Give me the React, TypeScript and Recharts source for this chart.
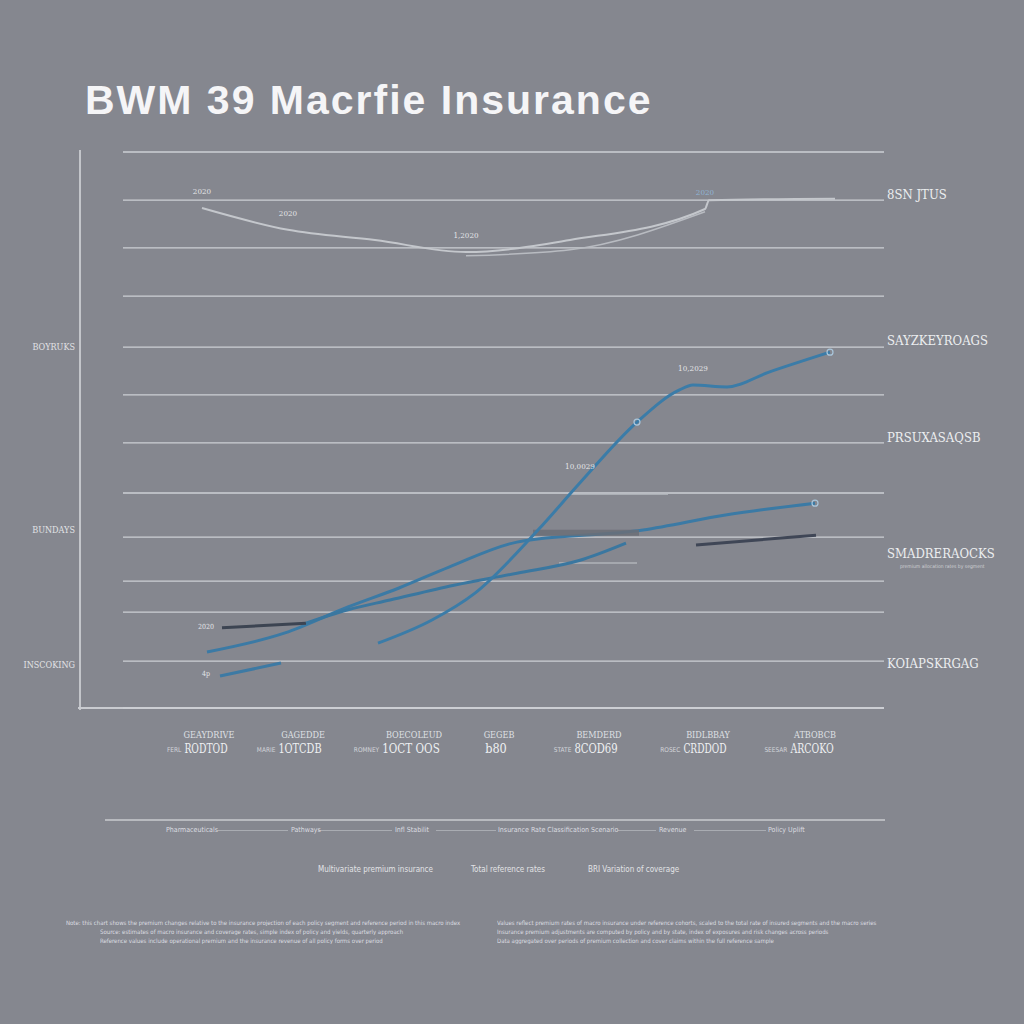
import React from 'react';
import { LineChart, Line, XAxis, YAxis, CartesianGrid, LabelList } from 'recharts';

const titleText = 'BWM 39 Macrfie Insurance';

// x axis (period index), labels
const xTicks = [8.3, 17.7, 28.8, 37.3, 47.3, 58.2, 68.9];
const xTopLabels = ['GEAYDRIVE', 'GAGEDDE', 'BOECOLEUD', 'GEGEB', 'BEMDERD', 'BIDLBBAY', 'ATBOBCB'];
const xPrefixLabels = ['FERL', 'MARIE', 'ROMNEY', '', 'STATE', 'ROSEC', 'SEESAR'];
const xMainLabels = ['RODTOD', '1OTCDB', '1OCT OOS', 'b80', '8COD69', 'CRDDOD', 'ARCOKO'];

// y axis
const gridValues = [0, 1.01, 2.07, 2.74, 3.69, 4.64, 5.72, 6.76, 7.79, 8.89, 9.93, 10.96, 12];
const leftTicks = [0.93, 3.84, 7.79];
const leftLabels = ['INSCOKING', 'BUNDAYS', 'BOYRUKS'];
const rightTicks = [0.97, 3.35, 5.85, 7.94, 11.09];
const rightLabels = ['KOIAPSKRGAG', 'SMADRERAOCKS', 'PRSUXASAQSB', 'SAYZKEYROAGS', '8SN JTUS'];

// series
const premiumX = [7.9, 16.5, 25.2, 34.3, 44.7, 58.2, 58.6, 71.2];
const premiumY = [10.79, 10.32, 10.1, 9.84, 10.1, 10.77, 10.96, 10.99];
const premiumTags = ['2020', '2020', '', '1,2020', '', '2020', '', ''];
const premiumEchoX = [34.3, 44.7, 58.2];
const premiumEchoY = [9.76, 9.89, 10.71];

const growthX = [25.5, 30.9, 35.2, 41.5, 45.7, 51.4, 55.6, 57.0, 60.4, 64.6, 70.7];
const growthY = [1.4, 1.9, 2.48, 3.84, 4.86, 6.17, 6.86, 6.97, 6.93, 7.25, 7.68];
const growthTags = ['', '', '', '', '10,0029', '', '', '10,2029', '', '', ''];

const coverX = [8.4, 16.2, 22.5, 27.6, 32.6, 39.4, 52.0, 60.4, 69.2];
const coverY = [1.21, 1.62, 2.18, 2.59, 3.04, 3.58, 3.84, 4.17, 4.42];

const claimsNavyX = [9.9, 18.3];
const claimsNavyY = [1.73, 1.83];
const claimsX = [18.3, 22.5, 26.7, 33.1, 39.4, 45.7, 50.3];
const claimsY = [1.83, 2.12, 2.33, 2.65, 2.91, 3.19, 3.56];

const smallX = [9.7, 15.8];
const smallY = [0.69, 0.97];

const lateX = [57.3, 69.3];
const lateY = [3.52, 3.73];

const bandX = [41.0, 51.6];
const bandY = [3.78, 3.78];
const faintTopX = [44.8, 54.5];
const faintTopY = [4.62, 4.62];
const faintLowX = [43.6, 51.4];
const faintLowY = [3.13, 3.13];

const pts = (xs: number[], ys: number[], tags?: string[]) =>
  xs.map((x, i) => ({ x, y: ys[i], tag: tags ? tags[i] : '' }));

const axisSub = [
  ['Pharmaceuticals', 166], ['Pathways', 291], ['Infl Stabilit', 395],
  ['Insurance Rate Classification Scenario', 498], ['Revenue', 659], ['Policy Uplift', 768],
];
const axisSubLinks = [[218, 288], [318, 392], [436, 496], [618, 656], [694, 766]];
const legendItems = [
  ['Multivariate premium insurance', 318], ['Total reference rates', 471], ['BRI Variation of coverage', 588],
];
const notesLeft = [
  'Note: this chart shows the premium changes relative to the insurance projection of each policy segment and reference period in this macro index',
  'Source: estimates of macro insurance and coverage rates, simple index of policy and yields, quarterly approach',
  'Reference values include operational premium and the insurance revenue of all policy forms over period',
];
const notesRight = [
  'Values reflect premium rates of macro insurance under reference cohorts, scaled to the total rate of insured segments and the macro series',
  'Insurance premium adjustments are computed by policy and by state, index of exposures and risk changes across periods',
  'Data aggregated over periods of premium collection and cover claims within the full reference sample',
];

const XTick = (props: any) => {
  const { x, y, index } = props;
  const main = xMainLabels[index] || '';
  const w = main.length * 7.2;
  return (
    <g>
      <text x={x + 3} y={y + 22} textAnchor="middle" fontSize={9} fill="#dfe0e4" fontFamily="DejaVu Serif Condensed">
        {xTopLabels[index]}
      </text>
      <text x={x - w / 2 - 3} y={y + 36} textAnchor="end" fontSize={6.5} fill="#d3d5da" fontFamily="DejaVu Sans Condensed">
        {xPrefixLabels[index]}
      </text>
      <text x={x} y={y + 37} textAnchor="middle" fontSize={13} fill="#eef0f2" fontFamily="DejaVu Serif Condensed" textLength={w} lengthAdjust="spacingAndGlyphs">
        {main}
      </text>
    </g>
  );
};

const LeftTick = (props: any) => {
  const { x, y, index } = props;
  return (
    <text x={x - 40} y={y + 3} textAnchor="end" fontSize={9} fill="#e2e3e6" fontFamily="DejaVu Serif Condensed">
      {leftLabels[index]}
    </text>
  );
};

const RightTick = (props: any) => {
  const { x, y, index } = props;
  return (
    <g>
      <text x={x - 5} y={y + 5} textAnchor="start" fontSize={13} fill="#eceef0" fontFamily="DejaVu Serif Condensed">
        {rightLabels[index]}
      </text>
      {index === 1 && (
        <text x={x + 8} y={y + 15} fontSize={5} fill="#d0d2d6" fontFamily="DejaVu Sans Condensed">
          premium allocation rates by segment
        </text>
      )}
    </g>
  );
};

const Tag = (props: any) => {
  const { x, y, value, index } = props;
  if (!value) return null;
  return (
    <text x={x} y={y - 14} textAnchor="middle" fontSize={8} fill={index === 5 && value === '2020' ? '#8fb4d4' : '#e4e5e8'} fontFamily="DejaVu Serif Condensed">
      {value}
    </text>
  );
};

const ringDot = (marked: number[]) => (props: any) => {
  const { cx, cy, index } = props;
  if (!marked.includes(index)) return <g key={index} />;
  return <circle key={index} cx={cx} cy={cy} r={3} fill="none" stroke="#a9c6dc" strokeWidth={1.2} />;
};

export default function App() {
  return (
    <div style={{ position: 'absolute', left: 0, top: 0, width: 1024, height: 1024, background: '#85878f', overflow: 'hidden', fontFamily: 'Liberation Sans' }}>
      <div style={{ position: 'absolute', left: 85, top: 80, fontSize: 41, letterSpacing: 2, fontWeight: 'bold', color: '#f5f5f7', lineHeight: 1, whiteSpace: 'nowrap' }}>
        {titleText}
      </div>
      <div style={{ position: 'absolute', left: 79, top: 150, width: 1.5, height: 560, background: '#c3c5ca' }} />
      <div style={{ position: 'absolute', left: 78, top: 707, width: 806, height: 1.5, background: '#c9cbd0' }} />

      <div style={{ position: 'absolute', left: 0, top: 0 }}>
        <LineChart width={1024} height={1024} margin={{ top: 152, right: 0, bottom: 256, left: 0 }}>
          <CartesianGrid vertical={false} horizontalValues={gridValues} yAxisId="left" stroke="#cdcfd4" strokeWidth={1.3} />
          <XAxis type="number" dataKey="x" domain={[0, 76.1]} ticks={xTicks} tick={<XTick />} axisLine={false} tickLine={false} height={60} allowDataOverflow interval={0} />
          <YAxis yAxisId="left" width={123} domain={[0, 12]} ticks={leftTicks} tick={<LeftTick />} axisLine={false} tickLine={false} interval={0} />
          <YAxis yAxisId="right" orientation="right" width={140} domain={[0, 12]} ticks={rightTicks} tick={<RightTick />} axisLine={false} tickLine={false} interval={0} />

          <Line yAxisId="right" data={pts(faintTopX, faintTopY)} dataKey="y" stroke="#b9bcc2" strokeWidth={1.5} dot={false} isAnimationActive={false} />
          <Line yAxisId="right" data={pts(faintLowX, faintLowY)} dataKey="y" stroke="#b0b3b9" strokeWidth={1.5} dot={false} isAnimationActive={false} />

          <Line yAxisId="left" type="monotone" data={pts(premiumX, premiumY, premiumTags)} dataKey="y" stroke="#c4c7cc" strokeWidth={2} dot={false} isAnimationActive={false}>
            <LabelList dataKey="tag" content={<Tag />} />
          </Line>
          <Line yAxisId="left" type="monotone" data={pts(premiumEchoX, premiumEchoY)} dataKey="y" stroke="#b8bbc1" strokeWidth={1.5} dot={false} isAnimationActive={false} />

          <Line yAxisId="left" type="monotone" data={pts(coverX, coverY)} dataKey="y" stroke="#3b7aa5" strokeWidth={3} dot={ringDot([8])} isAnimationActive={false} />
          <Line yAxisId="left" data={pts(bandX, bandY)} dataKey="y" stroke="#6b6e77" strokeWidth={6} strokeOpacity={0.85} dot={false} isAnimationActive={false} />

          <Line yAxisId="left" type="monotone" data={pts(claimsNavyX, claimsNavyY)} dataKey="y" stroke="#3c4452" strokeWidth={3} dot={false} isAnimationActive={false} />
          <Line yAxisId="left" type="monotone" data={pts(claimsX, claimsY)} dataKey="y" stroke="#3a77a0" strokeWidth={3} dot={false} isAnimationActive={false} />

          <Line yAxisId="left" type="monotone" data={pts(smallX, smallY)} dataKey="y" stroke="#3d7aa4" strokeWidth={3} dot={false} isAnimationActive={false} />
          <Line yAxisId="left" type="monotone" data={pts(lateX, lateY)} dataKey="y" stroke="#3f4656" strokeWidth={3} dot={false} isAnimationActive={false} />

          <Line yAxisId="left" type="monotone" data={pts(growthX, growthY, growthTags)} dataKey="y" stroke="#3b7ca8" strokeWidth={3} dot={ringDot([5, 10])} isAnimationActive={false}>
            <LabelList dataKey="tag" content={<Tag />} />
          </Line>
        </LineChart>
      </div>

      <div style={{ position: 'absolute', left: 198, top: 623, fontSize: 7, color: '#e3e4e7', fontFamily: 'DejaVu Serif Condensed' }}>2020</div>
      <div style={{ position: 'absolute', left: 202, top: 670, fontSize: 7, color: '#e3e4e7', fontFamily: 'DejaVu Serif Condensed' }}>4p</div>

      <div style={{ position: 'absolute', left: 105, top: 819, width: 780, height: 1.5, background: '#b8babf' }} />
      {axisSubLinks.map(([a, b]) => (
        <div key={a} style={{ position: 'absolute', left: a, top: 830, width: b - a, height: 1, background: '#a9acb2' }} />
      ))}
      {axisSub.map(([t, left]) => (
        <div key={t as string} style={{ position: 'absolute', left: left as number, top: 826, fontSize: 7, color: '#dcdde1', fontFamily: 'DejaVu Sans Condensed', whiteSpace: 'nowrap' }}>
          {t}
        </div>
      ))}
      {legendItems.map(([t, left]) => (
        <div key={t as string} style={{ position: 'absolute', left: left as number, top: 865, fontSize: 8, color: '#e2e3e6', fontFamily: 'DejaVu Sans Condensed', whiteSpace: 'nowrap' }}>
          {t}
        </div>
      ))}
      {notesLeft.map((t, i) => (
        <div key={t} style={{ position: 'absolute', left: i === 0 ? 66 : 100, top: 919 + i * 9, width: i === 0 ? 420 : 380, fontSize: 6, color: '#dcdde1', fontFamily: 'DejaVu Sans Condensed', whiteSpace: 'nowrap', overflow: 'hidden' }}>
          {t}
        </div>
      ))}
      {notesRight.map((t, i) => (
        <div key={t} style={{ position: 'absolute', left: 497, top: 919 + i * 9, width: i === 0 ? 423 : 380, fontSize: 6, color: '#dcdde1', fontFamily: 'DejaVu Sans Condensed', whiteSpace: 'nowrap', overflow: 'hidden' }}>
          {t}
        </div>
      ))}
    </div>
  );
}
